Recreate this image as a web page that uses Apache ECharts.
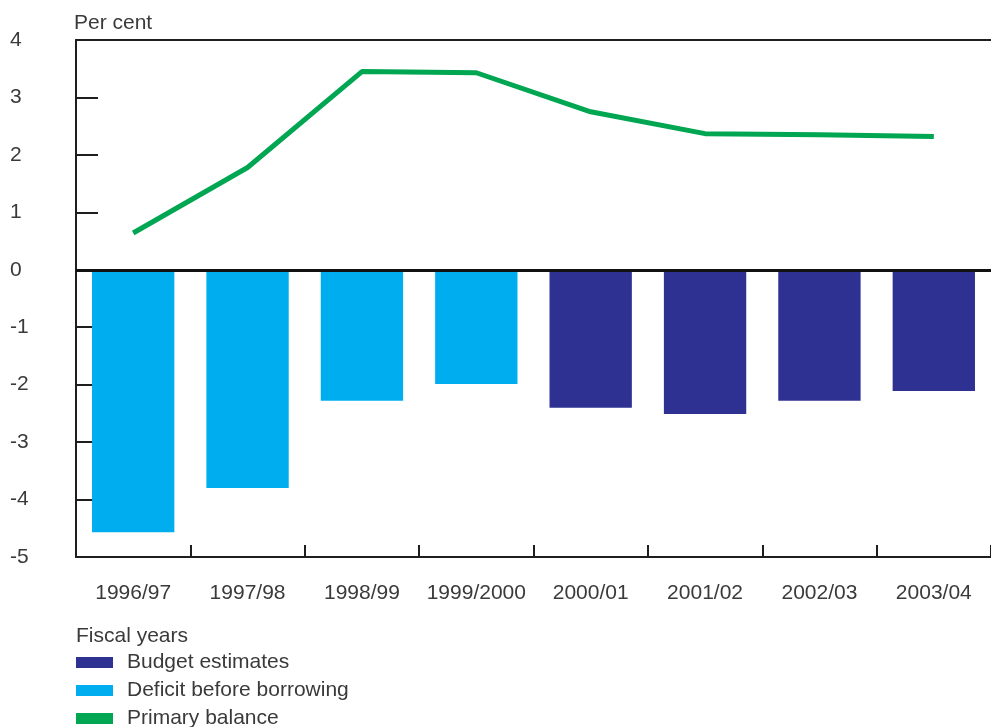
<!DOCTYPE html>
<html>
<head>
<meta charset="utf-8">
<title>Fiscal balances</title>
<script src="https://cdn.jsdelivr.net/npm/echarts@6/dist/echarts.min.js"></script>
<style>
  html, body { margin: 0; padding: 0; background: #fff; }
  #chart { width: 991px; height: 727px; }
</style>
</head>
<body>
<div id="chart"></div>
<script>
// Fiscal years shown along the category axis
const years = ['1996/97', '1997/98', '1998/99', '1999/2000', '2000/01', '2001/02', '2002/03', '2003/04'];

// Deficit before borrowing (outturn years), per cent
const deficitOutturn = [-4.57, -3.80, -2.28, -1.99, '-', '-', '-', '-'];
// Deficit before borrowing, budget estimate years, per cent
const budgetEstimates = ['-', '-', '-', '-', -2.40, -2.51, -2.28, -2.11];
// Primary balance, per cent
const primaryBalance = [0.64, 1.78, 3.45, 3.43, 2.75, 2.37, 2.35, 2.32];

// Value axis range
const yMin = -5;
const yMax = 4;
const yStep = 1;

const FONT = '"Liberation Sans", Arial, sans-serif';
const FS = 21;
const TEXT = '#3a3a3a';
const AXIS = '#1e1e1e';

const chart = echarts.init(document.getElementById('chart'), null, { renderer: 'canvas' });

chart.setOption({
  animation: false,
  backgroundColor: '#fff',
  textStyle: { fontFamily: FONT },
  title: [
    {
      text: 'Per cent',
      left: 69, top: 8,
      textStyle: { fontFamily: FONT, fontSize: FS, fontWeight: 'normal', color: TEXT }
    },
    {
      text: 'Fiscal years',
      left: 71, top: 621,
      textStyle: { fontFamily: FONT, fontSize: FS, fontWeight: 'normal', color: TEXT }
    }
  ],
  legend: {
    orient: 'vertical',
    left: 76, top: 652,
    height: 120,
    padding: 0,
    itemWidth: 37, itemHeight: 11,
    itemGap: 7,
    icon: 'rect',
    selectedMode: false,
    textStyle: { fontFamily: FONT, fontSize: FS, color: TEXT, lineHeight: 21, padding: [0, 0, 0, 9] },
    data: [
      { name: 'Budget estimates' },
      { name: 'Deficit before borrowing' },
      { name: 'Primary balance', icon: 'rect' }
    ]
  },
  grid: { left: 76, right: 0, top: 40, bottom: 170, containLabel: false },
  xAxis: [
    {
      type: 'category',
      data: years,
      position: 'bottom',
      boundaryGap: true,
      axisLine: { show: true, onZero: false, lineStyle: { color: AXIS, width: 2 } },
      axisTick: { show: true, inside: true, length: 12, alignWithLabel: false, lineStyle: { color: AXIS, width: 2 } },
      axisLabel: { fontFamily: FONT, fontSize: FS, color: TEXT, margin: 26, interval: 0 },
      splitLine: { show: false }
    },
    {
      type: 'category',
      data: years,
      position: 'top',
      axisLine: { show: true, onZero: false, lineStyle: { color: AXIS, width: 2 } },
      axisTick: { show: false },
      axisLabel: { show: false },
      splitLine: { show: false }
    }
  ],
  yAxis: {
    type: 'value',
    min: yMin, max: yMax, interval: yStep,
    axisLine: { show: true, lineStyle: { color: AXIS, width: 2 } },
    axisTick: { show: true, inside: true, length: 22, lineStyle: { color: AXIS, width: 2 } },
    axisLabel: { fontFamily: FONT, fontSize: FS, color: TEXT, align: 'left', margin: 66 },
    splitLine: { show: false }
  },
  series: [
    {
      name: 'Deficit before borrowing',
      type: 'bar',
      stack: 'deficit',
      data: deficitOutturn,
      barWidth: '72%',
      itemStyle: { color: '#00aeef' },
      z: 2
    },
    {
      name: 'Budget estimates',
      type: 'bar',
      stack: 'deficit',
      data: budgetEstimates,
      barWidth: '72%',
      itemStyle: { color: '#2e3192' },
      z: 2,
      markLine: {
        silent: true,
        symbol: 'none',
        label: { show: false },
        lineStyle: { color: '#111', width: 3, type: 'solid' },
        data: [{ yAxis: 0 }],
        z: 3
      }
    },
    {
      name: 'Primary balance',
      type: 'line',
      data: primaryBalance,
      symbol: 'none',
      lineStyle: { color: '#00a651', width: 5 },
      itemStyle: { color: '#00a651' },
      z: 4
    }
  ]
});
</script>
</body>
</html>
